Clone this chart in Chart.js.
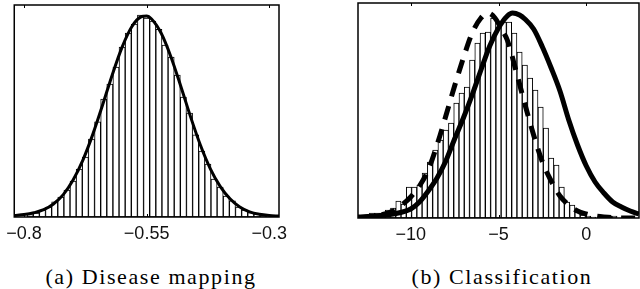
<!DOCTYPE html>
<html>
<head>
<meta charset="utf-8">
<script src="https://cdn.jsdelivr.net/npm/chart.js@4.4.1/dist/chart.umd.min.js"></script>
<style>
body{margin:0;background:#fff;width:640px;height:289px;position:relative;overflow:hidden}
canvas{position:absolute;top:0}
.cap{position:absolute;top:266px;width:300px;text-align:center;font-family:"Liberation Serif",serif;font-size:22px;line-height:22px;white-space:nowrap;color:#000;letter-spacing:1.6px}
</style>
</head>
<body>
<canvas id="chartA" width="300" height="250" style="left:0"></canvas>
<canvas id="chartB" width="320" height="250" style="left:320px"></canvas>
<div class="cap" style="left:1px">(a) Disease mapping</div>
<div class="cap" style="left:352px">(b) Classification</div>
<script>
// (a) disease mapping: histogram bins + fitted curve
const binsA = [-0.7875,-0.775,-0.7625,-0.75,-0.7375,-0.725,-0.7125,-0.7,-0.6875,-0.675,-0.6625,-0.65,-0.6375,-0.625,-0.6125,-0.6,-0.5875,-0.575,-0.5625,-0.55,-0.5375,-0.525,-0.5125,-0.5,-0.4875,-0.475,-0.4625,-0.45,-0.4375,-0.425,-0.4125,-0.4,-0.3875,-0.375,-0.3625,-0.35,-0.3375,-0.325,-0.3125,-0.3]
const countsA = [0.08,0.13,0.23,0.33,0.50,0.66,0.89,1.19,1.58,1.98,2.57,3.14,3.89,4.39,4.95,5.61,6.07,6.37,6.67,6.57,6.47,6.20,5.68,5.28,4.69,3.96,3.43,2.71,2.18,1.75,1.25,0.99,0.69,0.53,0.33,0.23,0.15,0.10,0.07,0.03]
const curveXA = [-0.82,-0.80,-0.78,-0.76,-0.74,-0.72,-0.70,-0.68,-0.66,-0.64,-0.62,-0.60,-0.58,-0.56,-0.55,-0.54,-0.52,-0.50,-0.48,-0.46,-0.44,-0.42,-0.40,-0.38,-0.36,-0.34,-0.32,-0.30,-0.28]
const curveYA = [0.05,0.08,0.14,0.24,0.43,0.74,1.22,1.88,2.72,3.69,4.70,5.61,6.29,6.62,6.64,6.54,6.06,5.27,4.30,3.29,2.36,1.59,1.01,0.60,0.33,0.17,0.09,0.05,0.03]
const ticksA = [-0.8,-0.55,-0.3]
const tickTextA = ['\u22120.8','\u22120.55','\u22120.3']

// (b) classification: histogram + two approximations
const binsB = [-12.2,-11.9,-11.6,-11.3,-11.0,-10.7,-10.4,-10.1,-9.8,-9.5,-9.2,-8.9,-8.6,-8.3,-8.0,-7.7,-7.4,-7.1,-6.8,-6.5,-6.2,-5.9,-5.6,-5.3,-5.0,-4.7,-4.4,-4.1,-3.8,-3.5,-3.2,-2.9,-2.6,-2.3,-2.0,-1.7,-1.4,-1.1,-0.8,-0.5,-0.2,0.1,0.4,0.7,1.0,1.3,1.6]
const countsB = [0.005,0.005,0.005,0.008,0.010,0.017,0.014,0.031,0.031,0.033,0.045,0.056,0.068,0.078,0.088,0.095,0.115,0.125,0.131,0.158,0.175,0.185,0.186,0.200,0.191,0.196,0.196,0.185,0.166,0.153,0.140,0.128,0.111,0.090,0.060,0.053,0.031,0.016,0.013,0.006,0.003,0.002,0.001,0,0.002,0.002,0.002]
const solidXB = [-13,-12,-11,-10,-9.5,-9,-8.5,-8,-7.5,-7,-6.5,-6,-5.5,-5,-4.5,-4.2,-3.8,-3.5,-3,-2.5,-2,-1.5,-1,-0.5,0,0.5,1,1.5,2,2.5,3]
const solidYB = [0.001,0.002,0.004,0.009,0.016,0.027,0.040,0.057,0.079,0.100,0.123,0.148,0.172,0.190,0.202,0.205,0.203,0.199,0.189,0.171,0.150,0.127,0.098,0.073,0.052,0.036,0.025,0.016,0.011,0.007,0.004]
const dashXB = [-13,-12,-11,-10.5,-10,-9.5,-9,-8.5,-8,-7.5,-7,-6.5,-6,-5.6,-5.2,-4.8,-4.5,-4,-3.5,-3,-2.5,-2,-1.5,-1,-0.5,0,0.5,1,2,3]
const dashYB = [0,0.002,0.007,0.013,0.021,0.032,0.048,0.073,0.102,0.132,0.160,0.185,0.200,0.205,0.200,0.188,0.178,0.147,0.114,0.083,0.056,0.037,0.022,0.013,0.007,0.004,0.002,0.001,0,0]
const ticksB = [-10,-5,0]
const tickTextB = ['\u221210','\u22125','0']

function pts(xs, ys){
    return xs.map((x, i) => ({x: x, y: ys[i]}))
}
function histSet(xs, ys){
    return {
        type: 'bar',
        data: pts(xs, ys),
        backgroundColor: '#fff',
        borderColor: '#000',
        borderWidth: 1,
        borderSkipped: false,
        barPercentage: 1,
        categoryPercentage: 1,
        order: 3
    }
}
function lineSet(xs, ys, width, dash, ord){
    return {
        type: 'line',
        data: pts(xs, ys),
        borderColor: '#000',
        borderWidth: width,
        borderDash: dash,
        borderCapStyle: 'butt',
        pointRadius: 0,
        fill: false,
        cubicInterpolationMode: 'monotone',
        order: ord
    }
}

// box around plot area with small inward ticks, like matlab
const framePlugin = {
    id: 'frame',
    afterDatasetsDraw(chart){
        const a = chart.chartArea
        const ctx = chart.ctx
        ctx.save()
        ctx.strokeStyle = '#000'
        ctx.lineWidth = 1.5
        ctx.strokeRect(a.left, a.top, a.right - a.left, a.bottom - a.top)
        ctx.lineWidth = 1
        chart.scales.x.ticks.forEach(t => {
            let px = Math.round(chart.scales.x.getPixelForValue(t.value)) + 0.5
            ctx.beginPath()
            ctx.moveTo(px, a.top); ctx.lineTo(px, a.top + 3)
            ctx.moveTo(px, a.bottom); ctx.lineTo(px, a.bottom - 3)
            ctx.stroke()
        })
        ctx.restore()
    }
}

function makeChart(id, datasets, xmin, xmax, ymax, tickVals, tickText, pad, axisH){
    let ctx = document.getElementById(id).getContext('2d')
    return new Chart(ctx, {
        type: 'bar',
        data: {datasets: datasets},
        options: {
            responsive: false,
            animation: false,
            layout: {padding: pad},
            plugins: {legend: {display: false}, tooltip: {enabled: false}},
            scales: {
                x: {
                    type: 'linear', min: xmin, max: xmax, offset: false,
                    grid: {display: false, drawTicks: false, offset: false},
                    border: {display: false},
                    afterBuildTicks: s => { s.ticks = tickVals.map(v => ({value: v})) },
                    afterFit: s => { s.height = axisH },
                    ticks: {
                        autoSkip: false, maxRotation: 0, color: '#111', padding: 6,
                        font: {family: 'Liberation Sans', size: 18},
                        callback: (v, i) => tickText[i]
                    }
                },
                y: {display: false, min: 0, max: ymax}
            }
        },
        plugins: [framePlugin]
    })
}

makeChart('chartA', [
    lineSet(curveXA, curveYA, 3, [], 1),
    histSet(binsA, countsA)
], -0.82, -0.28, 7, ticksA, tickTextA, {left: 8, right: 21, top: 5, bottom: 0}, 33)

makeChart('chartB', [
    lineSet(solidXB, solidYB, 5, [], 1),
    lineSet(dashXB, dashYB, 5, [14, 10], 2),
    histSet(binsB, countsB)
], -13, 3, 0.215, ticksB, tickTextB, {left: 38, right: 1, top: 3, bottom: 0}, 32)
</script>
</body>
</html>
